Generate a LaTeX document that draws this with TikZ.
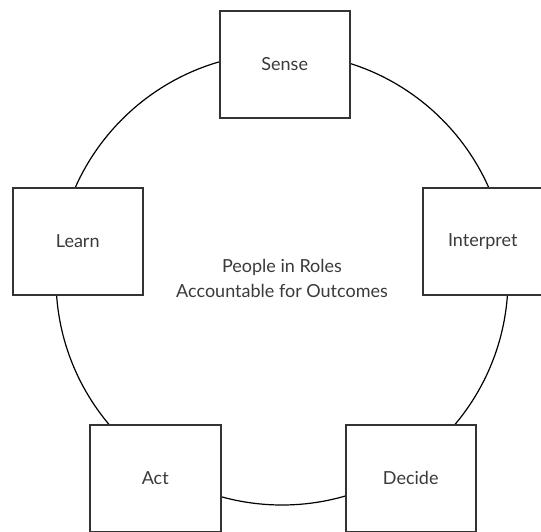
\documentclass[tikz,border=0pt]{standalone}
\usepackage{fontspec}
\setmainfont{Lato}
\definecolor{boxline}{HTML}{333333}
\definecolor{txt}{HTML}{3A3A3A}
\tikzset{
  stagebox/.style={draw=boxline, line width=1.5pt, fill=white, minimum width=130pt, minimum height=107pt, inner sep=0pt, font=\fontsize{18}{22}\selectfont, text=txt},
  ring/.style={draw=black, line width=1.2pt},
  centertext/.style={align=center, font=\fontsize{18}{25}\selectfont, text=txt}
}
\begin{document}
\begin{tikzpicture}[x=1pt,y=-1pt]
\useasboundingbox (0,0) rectangle (541,531);
\clip (0,0) rectangle (541,531);
\node[draw=none, minimum size=0pt, inner sep=0pt] (ctr) at (282,279) {};
\draw[ring] (ctr) circle[radius=226pt];
\node[stagebox, anchor=north west] (sense) at (219,10) {Sense};
\node[stagebox, anchor=north west] (learn) at (12,187) {Learn};
\node[stagebox, anchor=north west] (interp) at (422,187) {\hspace*{-10pt}Interpret};
\node[stagebox, anchor=north west, minimum width=131pt] (act) at (89,424) {Act};
\node[stagebox, anchor=north west] (decide) at (345,424) {Decide};
\node[centertext] (people) at (282,278) {People in Roles\\Accountable for Outcomes};
\end{tikzpicture}
\end{document}
